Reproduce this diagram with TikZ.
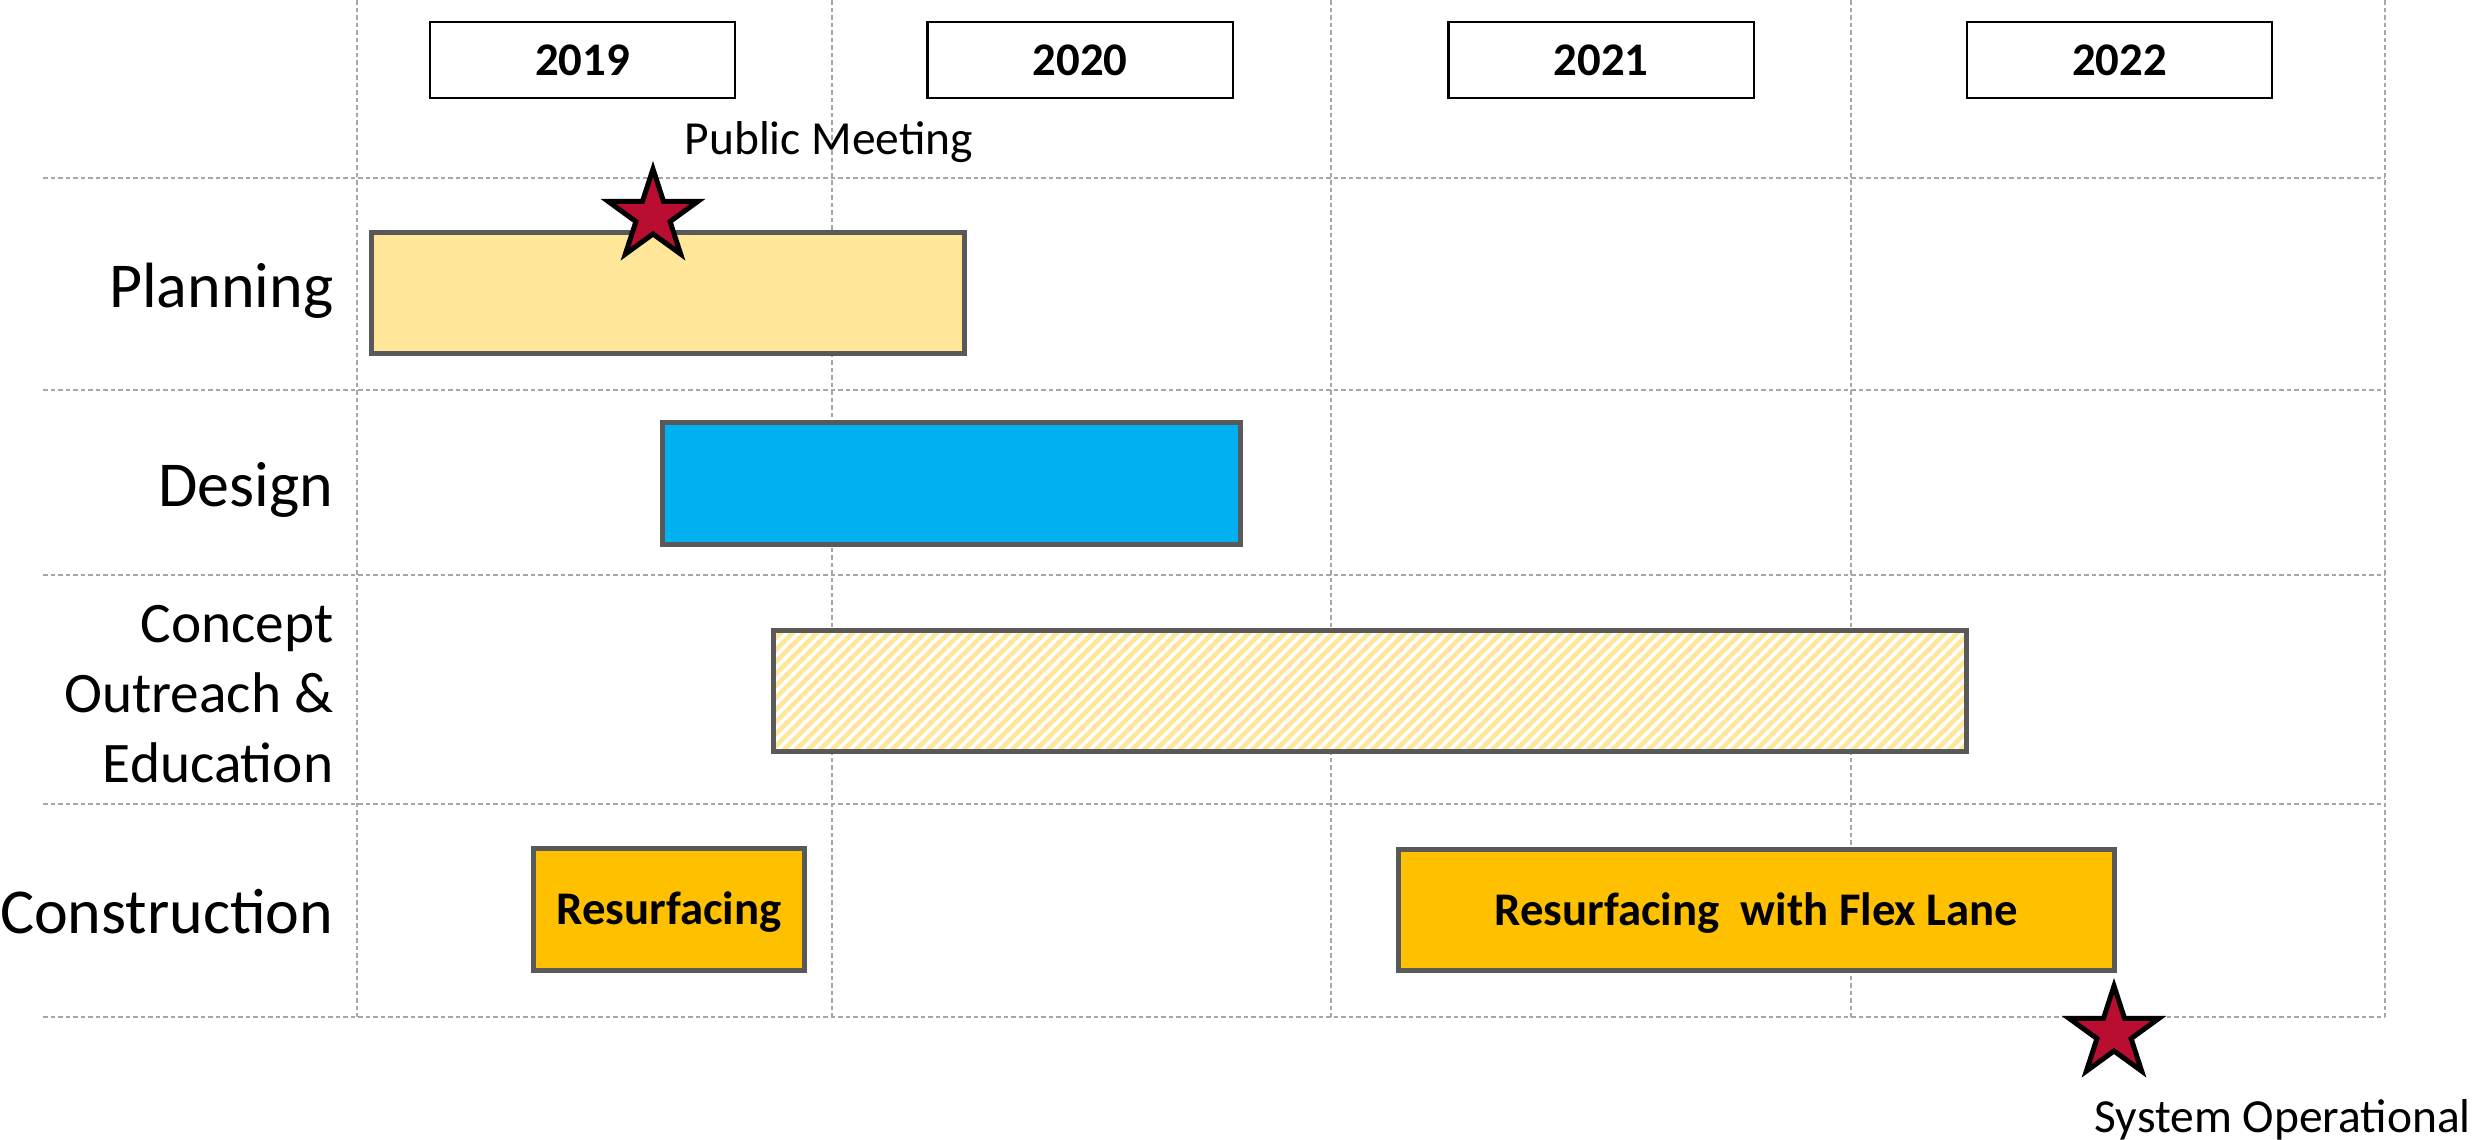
\documentclass[tikz,border=0pt]{standalone}
\usepackage{fontspec}
\setmainfont{Carlito}
\usetikzlibrary{shapes.geometric}
\definecolor{gridgray}{HTML}{A6A6A6}
\definecolor{barborder}{HTML}{595959}
\definecolor{planfill}{HTML}{FFE699}
\definecolor{designfill}{HTML}{00B0F0}
\definecolor{constfill}{HTML}{FFC000}
\definecolor{starred}{RGB}{185,14,49}
\begin{document}
\begin{tikzpicture}[x=0.01cm,y=-0.01cm,
  gridline/.style={gridgray, line width=0.015cm, dash pattern=on 0.045cm off 0.03cm},
  yearbox/.style={draw=black, line width=0.022cm, fill=white, minimum width=3.05cm, minimum height=0.76cm, inner sep=0, font=\fontsize{13.3pt}{16pt}\selectfont\bfseries},
  bar/.style={draw=barborder, line width=0.05cm, inner sep=0, font=\fontsize{13.3pt}{16pt}\selectfont\bfseries, text height=0.30cm, text depth=0cm},
  rowlabel/.style={inner sep=0, font=\fontsize{18.2pt}{19.9pt}\selectfont, align=right},
  note/.style={inner sep=0, font=\fontsize{13.5pt}{16pt}\selectfont},
  milestone/.style={star, star points=5, star point ratio=2.618, minimum size=0.94cm, inner sep=0, draw=black, line width=0.05cm, fill=starred}
]
\useasboundingbox (0,0) rectangle (2476,1139);
% grid
\foreach \yy in {178,390,575,804,1017} \draw[gridline] (43,\yy) -- (2385,\yy);
\foreach \xx in {357,832,1331,1851,2385} \draw[gridline] (\xx,0) -- (\xx,1017);
% years
\node[yearbox] (y2019) at (582.5,60) {2019};
\node[yearbox] (y2020) at (1080,60) {2020};
\node[yearbox] (y2021) at (1601,60) {2021};
\node[yearbox] (y2022) at (2119.5,60) {2022};
% row labels
\node[rowlabel, anchor=base east] (lplan) at (334,307) {Planning};
\node[rowlabel, anchor=base east] (ldesign) at (334,506) {Design};
\node[rowlabel, anchor=east, font=\fontsize{16.3pt}{19.9pt}\selectfont] (lconcept) at (334,694) {Concept\\Outreach \&\\Education};
\node[rowlabel, anchor=base east] (lconst) at (334,933) {Construction};
% bars
\node[bar, fill=planfill, minimum width=5.93cm, minimum height=1.21cm] (plan) at (668,293) {};
\node[bar, fill=designfill, minimum width=5.78cm, minimum height=1.22cm] (design) at (951.5,483.5) {};
\node[bar, fill=white, minimum width=11.93cm, minimum height=1.21cm,
  path picture={
    \foreach \k in {0,...,112}{
      \draw[planfill, line width=0.045cm] ([xshift=\k*0.12cm-1.35cm]path picture bounding box.south west) -- ++(1.45cm,1.45cm);
    }
  }] (concept) at (1370,691) {};
\node[bar, fill=constfill, minimum width=2.71cm, minimum height=1.22cm] (resurf) at (669,909.5) {Resurfacing};
\node[bar, fill=constfill, minimum width=7.16cm, minimum height=1.21cm] (flex) at (1756.5,910) {Resurfacing\ \ with Flex Lane};
% milestones
\node[note, anchor=base west] (pm) at (684,154) {Public Meeting};
\node[note, anchor=base west] (so) at (2094,1132) {System Operational};
\node[milestone] (s1) at (653,216) {};
\node[milestone] (s2) at (2114,1033) {};
\end{tikzpicture}
\end{document}
